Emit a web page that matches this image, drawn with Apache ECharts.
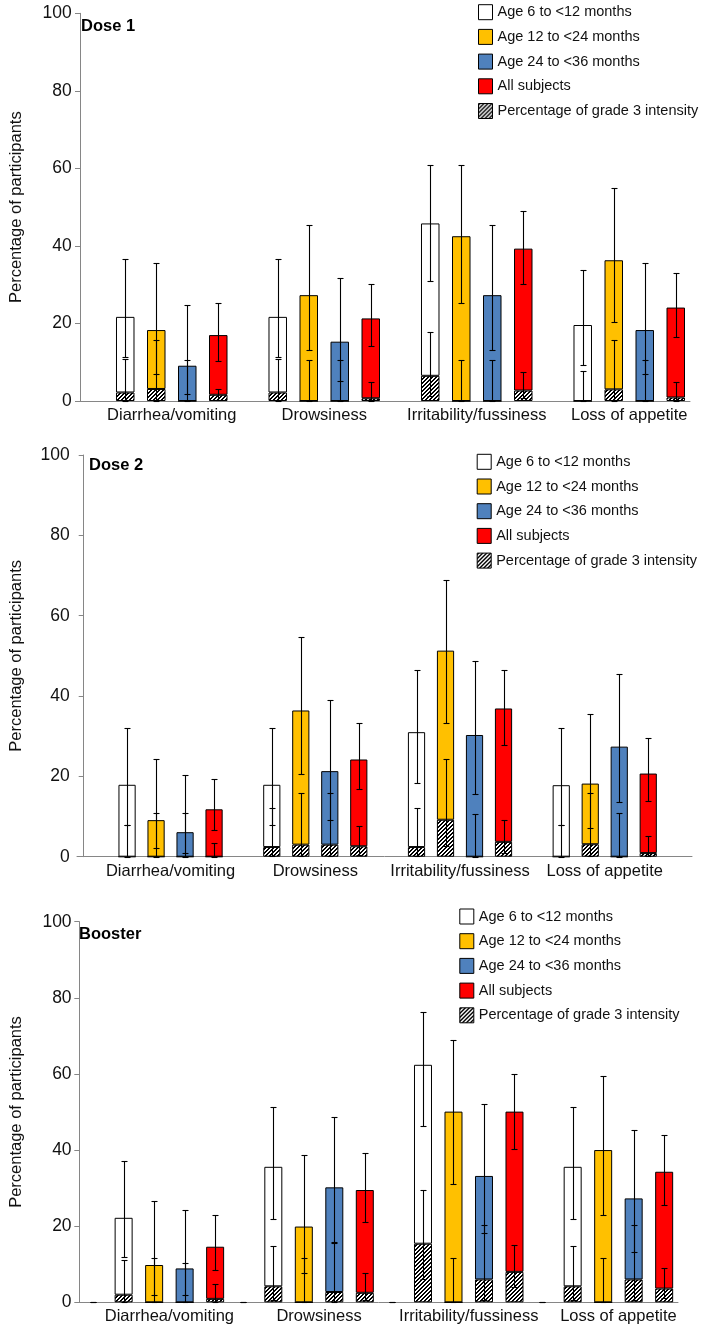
<!DOCTYPE html>
<html><head><meta charset="utf-8">
<script src="https://cdn.jsdelivr.net/npm/echarts@6/dist/echarts.min.js"></script>
<style>html,body{margin:0;padding:0;background:#fff}#c{width:702px;height:1329px}</style>
</head><body><div id="c"></div>
<script>
// ---------- DATA ----------
const categories = ['Diarrhea/vomiting', 'Drowsiness', 'Irritability/fussiness', 'Loss of appetite'];
const groupNames = ['Age 6 to <12 months', 'Age 12 to <24 months', 'Age 24 to <36 months', 'All subjects'];
const grade3Name = 'Percentage of grade 3 intensity';
const panelTitles = ['Dose 1', 'Dose 2', 'Booster'];
const yTicks = [0, 20, 40, 60, 80, 100];
const yAxisName = 'Percentage of participants';

// rows = age groups (6-<12, 12-<24, 24-<36, all), cols = categories
// Dose 1
const dose1Total  = [[21.7, 21.7, 45.8, 19.6], [18.3, 27.3, 42.5, 36.3], [9.1, 15.3, 27.3, 18.3], [17.0, 21.3, 39.3, 24.1]];
const dose1Low    = [[11.4, 11.4, 30.9, 9.3], [7.0, 13.1, 25.3, 20.3], [1.8, 5.2, 13.1, 7.0], [10.4, 14.2, 30.1, 16.4]];
const dose1High   = [[36.5, 36.5, 61.0, 33.9], [35.5, 45.5, 60.8, 54.9], [24.7, 31.8, 45.3, 35.5], [25.2, 30.3, 49.0, 33.0]];
const dose1G3     = [[2.2, 2.2, 6.5, 0], [3.1, 0, 0, 3.0], [0, 0, 0, 0], [1.6, 0.7, 2.7, 0.9]];
const dose1G3Low  = [[0.1, 0.1, 1.4, 0], [0.1, 0, 0, 0.1], [0, 0, 0, 0], [0.2, 0.02, 0.8, 0.1]];
const dose1G3High = [[10.8, 10.8, 17.9, 7.8], [15.7, 10.6, 10.6, 15.7], [10.6, 10.6, 10.6, 10.6], [3.2, 4.8, 7.6, 4.8]];
// Dose 2
const dose2Total  = [[17.9, 17.9, 31.0, 17.8], [9.1, 36.4, 51.3, 18.2], [6.1, 21.3, 30.3, 27.4], [11.8, 24.2, 36.9, 20.7]];
const dose2Low    = [[8.0, 8.0, 18.3, 8.0], [2.1, 20.5, 33.4, 7.1], [0.9, 9.2, 15.7, 13.5], [6.7, 16.8, 27.9, 13.8]];
const dose2High   = [[32.1, 32.1, 46.5, 32.1], [24.2, 54.8, 69.0, 35.5], [20.3, 38.9, 48.6, 45.5], [19.3, 33.4, 46.5, 29.6]];
const dose2G3     = [[0, 2.4, 2.4, 0], [0, 3.0, 9.2, 3.1], [0, 3.0, 0, 0], [0, 2.6, 3.7, 0.9]];
const dose2G3Low  = [[0, 0.1, 0.1, 0], [0, 0.1, 2.6, 0.1], [0, 0.1, 0, 0], [0, 0.5, 1.0, 0.1]];
const dose2G3High = [[8.0, 12.0, 12.0, 8.0], [10.9, 15.8, 24.2, 15.8], [10.9, 15.8, 10.7, 10.9], [3.3, 7.7, 9.1, 5.1]];
// Booster
const boostTotal  = [[22.2, 35.6, 62.4, 35.6], [9.8, 19.9, 50.1, 40.0], [8.9, 30.2, 33.2, 27.3], [14.6, 29.5, 50.1, 34.3]];
const boostLow    = [[11.8, 21.8, 46.4, 21.8], [2.0, 7.6, 31.2, 22.9], [1.8, 15.8, 18.1, 13.2], [8.6, 21.1, 40.4, 25.5]];
const boostHigh   = [[37.2, 51.2, 76.4, 51.2], [26.5, 38.6, 68.8, 59.5], [24.2, 48.8, 52.0, 45.4], [22.9, 39.3, 60.0, 43.9]];
const boostG3     = [[2.0, 4.2, 15.4, 4.2], [0, 0, 0, 0], [0, 2.7, 6.0, 6.0], [0.9, 2.5, 8.0, 3.6]];
const boostG3Low  = [[0.1, 0.5, 6.2, 0.5], [0, 0, 0, 0], [0, 0.1, 0.7, 0.7], [0.02, 0.5, 4.0, 1.2]];
const boostG3High = [[11.2, 14.9, 29.5, 14.9], [11.7, 11.6, 11.7, 11.7], [10.4, 15.6, 20.3, 20.3], [4.9, 7.7, 15.0, 9.0]];
// empty leading slot (zero values) in each category
const padValues = [0, 0, 0, 0];

// ---------- STYLE / LAYOUT ----------
const FONT = '"Liberation Sans", Arial, Helvetica, sans-serif';
const groupColors = ['#ffffff', '#ffc000', '#4f81bd', '#ff0000'];
const axisGray = '#868686';
const textColor = '#111';

const panels = [
  { total: dose1Total, low: dose1Low, high: dose1High, g3: dose1G3, g3Low: dose1G3Low, g3High: dose1G3High, padDash: false,
    L: { left: 70, top: 13.3, width: 620, height: 387.7, barW: 18.5, slot: 31, labelMargin: 8.3, nameGap: 55,
         titleLeft: 81, titleTop: 18, legendLeft: 478, legendTop: 4.2, axisExtend: 0 } },
  { total: dose2Total, low: dose2Low, high: dose2High, g3: dose2G3, g3Low: dose2G3Low, g3High: dose2G3High, padDash: false,
    L: { left: 77, top: 455, width: 585.6, height: 401.7, barW: 17.2, slot: 29, labelMargin: 14, nameGap: 58.7,
         titleLeft: 89, titleTop: 457, legendLeft: 476.7, legendTop: 453.8, axisExtend: 615 } },
  { total: boostTotal, low: boostLow, high: boostHigh, g3: boostG3, g3Low: boostG3Low, g3High: boostG3High, padDash: true,
    L: { left: 70, top: 921.7, width: 608, height: 380.6, barW: 18, slot: 30.5, labelMargin: 7.7, nameGap: 54.3,
         titleLeft: 79, titleTop: 926, legendLeft: 459.3, legendTop: 908.5, axisExtend: 0 } }
];

// hatch pattern ("///" black stripes on white), pixel-crisp
function makeHatch() {
  const n = 4;
  const cv = document.createElement('canvas');
  cv.width = n; cv.height = n;
  const ctx = cv.getContext('2d');
  ctx.fillStyle = '#fff'; ctx.fillRect(0, 0, n, n);
  ctx.fillStyle = '#000';
  for (let y = 0; y < n; y++) for (let x = 0; x < n; x++) {
    if ((x + y) % n < 2) ctx.fillRect(x, y, 1, 1);
  }
  return { image: cv, repeat: 'repeat' };
}
const hatch = makeHatch();

const grids = [], xAxes = [], yAxes = [], series = [], titles = [], legends = [];

panels.forEach((P, p) => {
  const L = P.L;
  const gapPct = ((L.slot - L.barW) / L.barW * 100).toFixed(2) + '%';
  grids.push({ left: L.left, top: L.top, width: L.width, height: L.height, containLabel: false });
  xAxes.push({
    type: 'category', gridIndex: p, data: categories,
    axisLine: { show: !L.axisExtend, lineStyle: { color: axisGray, width: 1 } },
    axisTick: { show: false },
    axisLabel: { interval: 0, margin: 6, fontSize: 16.5, color: textColor, fontFamily: FONT, padding: [0, 0, 0, L.slot] },
    splitLine: { show: false }
  });
  yAxes.push({
    type: 'value', gridIndex: p, min: yTicks[0], max: yTicks[yTicks.length - 1], interval: yTicks[1] - yTicks[0],
    name: yAxisName, nameLocation: 'middle', nameRotate: 90, nameGap: L.nameGap,
    nameTextStyle: { fontSize: 16.5, color: textColor, fontFamily: FONT },
    axisLine: { show: true, lineStyle: { color: axisGray, width: 1 } },
    axisTick: { show: true, length: 5, lineStyle: { color: axisGray } },
    axisLabel: { fontSize: 17.5, color: textColor, fontFamily: FONT, margin: L.labelMargin },
    splitLine: { show: false }
  });
  titles.push({ text: panelTitles[p], left: L.titleLeft, top: L.titleTop, padding: 0,
    textStyle: { fontSize: 16.5, fontWeight: 'bold', color: '#000', fontFamily: FONT } });
  legends.push({
    data: groupNames.concat([grade3Name]), orient: 'vertical', left: L.legendLeft, top: L.legendTop, padding: 0,
    icon: 'rect', itemWidth: 14, itemHeight: 15, itemGap: 8.7, itemTextGap: 6, selectedMode: false,
    itemStyle: { borderColor: '#000', borderWidth: 1 },
    textStyle: { fontSize: 14.5, color: textColor, fontFamily: FONT, lineHeight: 15 }
  });

  // leading empty slot
  series.push({ type: 'bar', name: '_pad' + p, xAxisIndex: p, yAxisIndex: p, stack: 'pad' + p,
    barWidth: L.barW, barGap: gapPct, data: padValues.slice(), silent: true,
    itemStyle: { color: 'rgba(0,0,0,0)', borderWidth: 0 } });

  const errData = [];
  for (let g = 0; g < 4; g++) {
    const stack = 'g' + g + 'p' + p;
    series.push({ type: 'bar', name: grade3Name, xAxisIndex: p, yAxisIndex: p, stack: stack,
      barWidth: L.barW, barGap: gapPct, data: P.g3[g].slice(), silent: true,
      itemStyle: { color: hatch, borderColor: '#000', borderWidth: 1 } });
    series.push({ type: 'bar', name: groupNames[g], xAxisIndex: p, yAxisIndex: p, stack: stack,
      barWidth: L.barW, barGap: gapPct, silent: true,
      data: P.total[g].map((v, c) => +(v - P.g3[g][c]).toFixed(2)),
      itemStyle: { color: groupColors[g], borderColor: '#000', borderWidth: 1 } });
    for (let c = 0; c < categories.length; c++) {
      errData.push([c, g + 1, P.low[g][c], P.high[g][c]]);
      errData.push([c, g + 1, P.g3Low[g][c], P.g3High[g][c]]);
    }
  }
  if (P.padDash) {
    for (let c = 0; c < categories.length; c++) errData.push([c, 0, padValues[c], padValues[c]]);
  }
  series.push({
    type: 'custom', name: '_err' + p, xAxisIndex: p, yAxisIndex: p, z: 5, silent: true,
    encode: { x: 0, y: [2, 3] }, data: errData,
    renderItem: function (params, api) {
      const cat = api.value(0), slot = api.value(1), lo = api.value(2), hi = api.value(3);
      const a = api.coord([cat, lo]), b = api.coord([cat, hi]);
      const x = Math.round(a[0] + (slot - 2) * L.slot) + 0.5;
      const y1 = Math.round(a[1]) + 0.5, y2 = Math.round(b[1]) + 0.5;
      const cw = 3;
      const st = { stroke: '#000', lineWidth: 1.1 };
      return { type: 'group', children: [
        { type: 'line', shape: { x1: x, y1: y1, x2: x, y2: y2 }, style: st },
        { type: 'line', shape: { x1: x - cw, y1: y1, x2: x + cw, y2: y1 }, style: st },
        { type: 'line', shape: { x1: x - cw, y1: y2, x2: x + cw, y2: y2 }, style: st }
      ] };
    }
  });
});

// Dose 2: horizontal axis line extends beyond the last category
panels.forEach((P, p) => {
  const L = P.L;
  if (!L.axisExtend) return;
  const gi = grids.length;
  grids.push({ left: L.left, top: L.top, width: L.axisExtend, height: L.height });
  xAxes.push({ type: 'value', gridIndex: gi, min: 0, max: 1, position: 'bottom',
    axisLine: { show: true, onZero: false, lineStyle: { color: axisGray, width: 1 } },
    axisTick: { show: false }, axisLabel: { show: false }, splitLine: { show: false } });
  yAxes.push({ type: 'value', gridIndex: gi, min: 0, max: 1, show: false });
});

const chart = echarts.init(document.getElementById('c'), null, { renderer: 'canvas' });
chart.setOption({
  animation: false,
  backgroundColor: '#fff',
  title: titles,
  legend: legends,
  grid: grids,
  xAxis: xAxes,
  yAxis: yAxes,
  series: series
});
</script></body></html>
